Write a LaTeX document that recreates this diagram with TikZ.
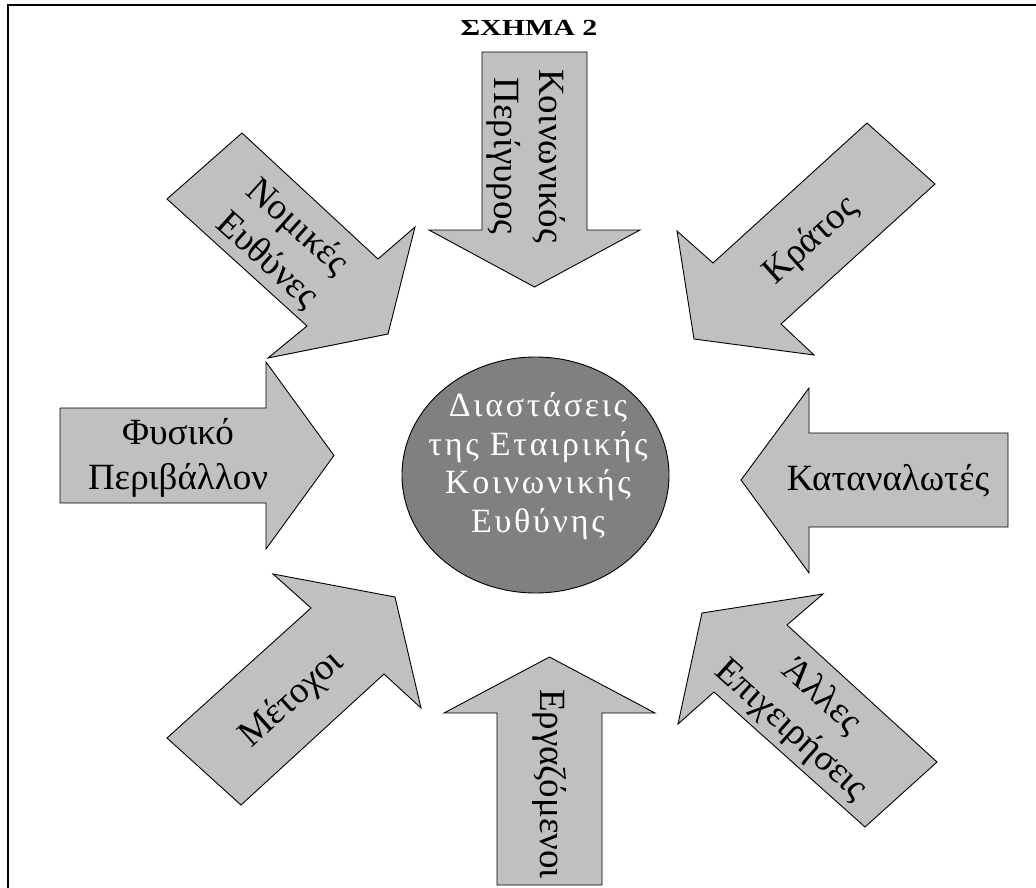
\documentclass[tikz,border=0pt]{standalone}
\usepackage{fontspec}
\setmainfont{Liberation Serif}
\newfontfamily\titlefont[FakeStretch=1.3]{Liberation Serif}
\newfontfamily\ellfont[LetterSpace=8]{Liberation Serif}
\usetikzlibrary{shapes.geometric}
\definecolor{agray}{RGB}{192,192,192}
\definecolor{egray}{RGB}{128,128,128}
\begin{document}
\begin{tikzpicture}[x=1pt,y=-1pt,
  blk/.style={draw=black,fill=agray,line width=0.9pt,line join=miter},
  atext/.style={font=\fontsize{37}{45}\selectfont,align=center,inner sep=0pt,text=black}]
\useasboundingbox (0,0) rectangle (1036,888);
\draw[line width=1.6pt] (8,888) -- (8,5) -- (1036,5);
% title
\node[font=\titlefont\bfseries\fontsize{23}{27}\selectfont,inner sep=0pt] (title) at (529,28) {ΣΧΗΜΑ 2};
% top arrow
\draw[blk] (482,52) -- (587,52) -- (587,230) -- (640,230) -- (534.5,287) -- (429,230) -- (482,230) -- cycle;
% bottom arrow
\draw[blk] (497,885) -- (497,713) -- (444,713) -- (549.5,657) -- (655,713) -- (602,713) -- (602,885) -- cycle;
% left arrow
\draw[blk] (60,408) -- (266,408) -- (266,362) -- (334,455.5) -- (266,549) -- (266,503) -- (60,503) -- cycle;
% right arrow
\draw[blk] (1008,433) -- (809,433) -- (809,388) -- (741,480) -- (809,573) -- (809,527) -- (1008,527) -- cycle;
% upper-left arrow
\draw[blk] (242,133) -- (378,259) -- (415,227) -- (388,334) -- (268,358) -- (307,326) -- (167,199) -- cycle;
% upper-right arrow
\draw[blk] (867,123) -- (713,263) -- (677,231) -- (694,339) -- (814,355) -- (781,324) -- (935,184) -- cycle;
% lower-left arrow
\draw[blk] (167,738) -- (311,608) -- (273,574) -- (395,597) -- (421,708) -- (384,674) -- (241,805) -- cycle;
% lower-right arrow
\draw[blk] (937,762) -- (787,625) -- (823,594) -- (702,613) -- (678,724) -- (714,692) -- (865,827) -- cycle;
% centre
\node[ellipse,draw=black,fill=egray,line width=0.9pt,minimum width=267pt,minimum height=236pt,inner sep=0pt] (centre) at (535.5,475) {};
\node[font=\ellfont\fontsize{34}{38.5}\selectfont,text=white,align=center,inner sep=0pt] (ctext) at (538,466) {Διαστάσεις\\της Εταιρικής\\Κοινωνικής\\Ευθύνης};
% labels
\node[atext,rotate=-90] (t1) at (526,156) {Κοινωνικός\\Περίγυρος};
\node[atext,rotate=-90] (t2) at (550,784) {Εργαζόμενοι};
\node[atext] (t3) at (178,458) {Φυσικό\\Περιβάλλον};
\node[atext] (t4) at (888,481) {Καταναλωτές};
\node[atext,rotate=-42] (t5) at (282,244) {Νομικές\\Ευθύνες};
\node[atext,rotate=42] (t6) at (811,241) {Κράτος};
\node[atext,rotate=42] (t7) at (292,700) {Μέτοχοι};
\node[atext,rotate=-42] (t8) at (806,714) {Άλλες\\Επιχειρήσεις};
\end{tikzpicture}
\end{document}
